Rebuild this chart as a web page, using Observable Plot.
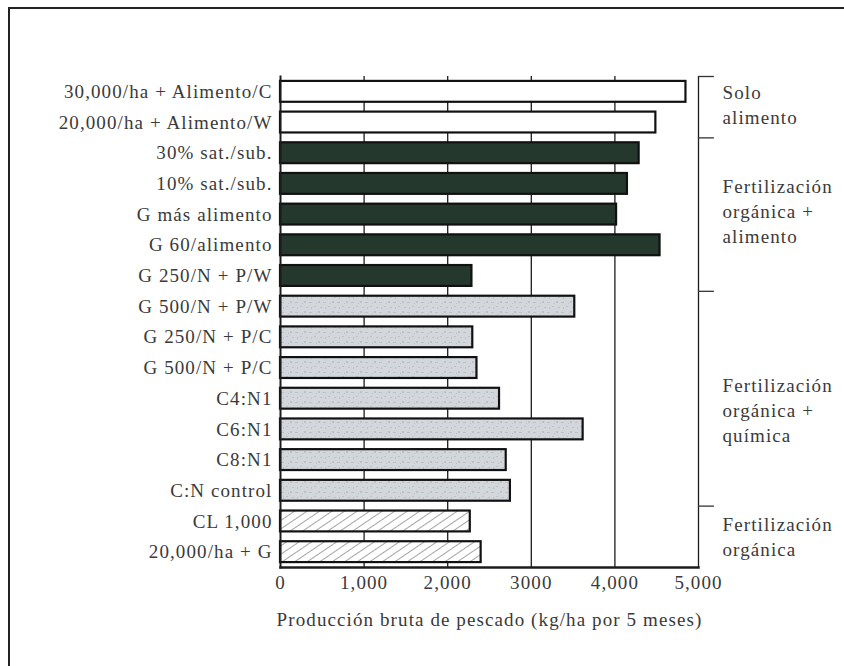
<!DOCTYPE html>
<html>
<head>
<meta charset="utf-8">
<script src="https://cdn.jsdelivr.net/npm/d3@7"></script>
<script src="https://cdn.jsdelivr.net/npm/@observablehq/plot@0.6"></script>
<style>
  html, body { margin: 0; padding: 0; background: #fff; }
  #wrap { position: relative; width: 844px; height: 666px; overflow: hidden; }
  #border { position: absolute; left: 8px; top: 7px; width: 900px; height: 700px;
            border-left: 2px solid #222; border-top: 2px solid #222; }
  #chart { position: absolute; left: 0; top: 0; }
</style>
</head>
<body>
<div id="wrap"><div id="border"></div><div id="chart"></div></div>
<script>
// ---- data ----
const categories = [
  "30,000/ha + Alimento/C",
  "20,000/ha + Alimento/W",
  "30% sat./sub.",
  "10% sat./sub.",
  "G más alimento",
  "G 60/alimento",
  "G 250/N + P/W",
  "G 500/N + P/W",
  "G 250/N + P/C",
  "G 500/N + P/C",
  "C4:N1",
  "C6:N1",
  "C8:N1",
  "C:N control",
  "CL 1,000",
  "20,000/ha + G"
];
const values = [4850, 4490, 4290, 4150, 4020, 4540, 2290, 3520, 2300, 2350, 2620, 3620, 2700, 2750, 2270, 2400];
const groupNames = ["Solo alimento", "Fertilización orgánica + alimento", "Fertilización orgánica + química", "Fertilización orgánica"];
const groupLabelLines = ["Solo\nalimento", "Fertilización\norgánica +\nalimento", "Fertilización\norgánica +\nquímica", "Fertilización\norgánica"];
const groupSizes = [2, 5, 7, 2];
const xTicks = [0, 1000, 2000, 3000, 4000, 5000];
const xTickLabels = ["0", "1,000", "2,000", "3000", "4,000", "5,000"];
const xLabel = "Producción bruta de pescado (kg/ha por 5 meses)";

// ---- derived table ----
const groupOfBar = groupSizes.flatMap((n, i) => Array(n).fill(groupNames[i]));
const data = categories.map((c, i) => ({category: c, value: values[i], group: groupOfBar[i]}));
let s0 = 0;
const groups = groupNames.map((g, i) => {
  const info = {name: g, first: categories[s0], n: groupSizes[i], label: groupLabelLines[i]};
  s0 += groupSizes[i];
  return info;
});

// ---- layout / style ----
const W = 844, H = 666, MT = 76, MB = 99, ML = 280, MR = 146;
const step = (H - MT - MB) / categories.length;
const labelNudge = [-4, -5, 10, -1];
const fills = ["#ffffff", "#25382e", "url(#speckle)", "url(#hatch)"];
const ink = "#1c1c1c";
const textInk = "#3a3a3a";

const chart = Plot.plot({
  width: W, height: H,
  marginLeft: ML, marginRight: MR, marginTop: MT, marginBottom: MB,
  style: "font-family: 'Liberation Serif', 'Times New Roman', serif; font-size: 19px; letter-spacing: 1.1px; color: " + textInk + "; background: transparent; overflow: visible;",
  x: {domain: [0, 5000], axis: null},
  y: {domain: categories, paddingInner: 0.32, paddingOuter: 0.16, round: false, axis: null},
  color: {type: "ordinal", domain: groupNames, range: fills},
  marks: [
    Plot.gridX(xTicks.slice(1), {stroke: ink, strokeOpacity: 1, strokeWidth: 1.3}),
    Plot.barX(data, {x: "value", y: "category", fill: "group", stroke: "#111", strokeWidth: 2.2}),
    Plot.frame({anchor: "left", stroke: ink, strokeWidth: 2}),
    Plot.frame({anchor: "bottom", stroke: ink, strokeWidth: 2.5}),
    Plot.axisY({tickSize: 0, tickPadding: 8, label: null}),
    Plot.axisX(xTicks, {tickSize: 0, tickPadding: 8, tickFormat: d => xTickLabels[xTicks.indexOf(d)],
      label: xLabel, labelAnchor: "center", labelOffset: 58, labelArrow: "none"}),
    ...groups.map(G => Plot.ruleY([G.first], {y: d => d, x1: () => 5000, x2: () => 5190, dy: -step / 2, stroke: "#333", strokeWidth: 1.3})),
    ...groups.map((G, i) => Plot.text([G.label], {
      x: () => 5000, y: () => G.first, text: d => d,
      dx: 24, dy: (G.n - 1) / 2 * step + labelNudge[i],
      textAnchor: "start", lineAnchor: "middle", lineHeight: 1.32, fill: textInk
    }))
  ]
});

// patterns
const svg = d3.select(chart.tagName.toLowerCase() === "svg" ? chart : chart.querySelector("svg"));
const defs = svg.insert("defs", ":first-child");
const hatch = defs.append("pattern").attr("id", "hatch").attr("patternUnits", "userSpaceOnUse")
  .attr("width", 7).attr("height", 7).attr("patternTransform", "rotate(56)");
hatch.append("rect").attr("width", 7).attr("height", 7).attr("fill", "#fff");
hatch.append("line").attr("x1", 0).attr("y1", 0).attr("x2", 0).attr("y2", 7).attr("stroke", "#4a4a4a").attr("stroke-width", 1);
const sp = defs.append("pattern").attr("id", "speckle").attr("patternUnits", "userSpaceOnUse")
  .attr("width", 14).attr("height", 10);
sp.append("rect").attr("width", 14).attr("height", 10).attr("fill", "#d3d7dc");
[[1,2,3,1],[6,6,2,1],[10,1,2,2],[3,7,1,2],[12,7,2,1],[8,3,1,1]].forEach(([x,y,w,h]) =>
  sp.append("rect").attr("x", x).attr("y", y).attr("width", w).attr("height", h).attr("fill", "#bcc2c8"));

document.getElementById("chart").appendChild(chart);
</script>
</body>
</html>
